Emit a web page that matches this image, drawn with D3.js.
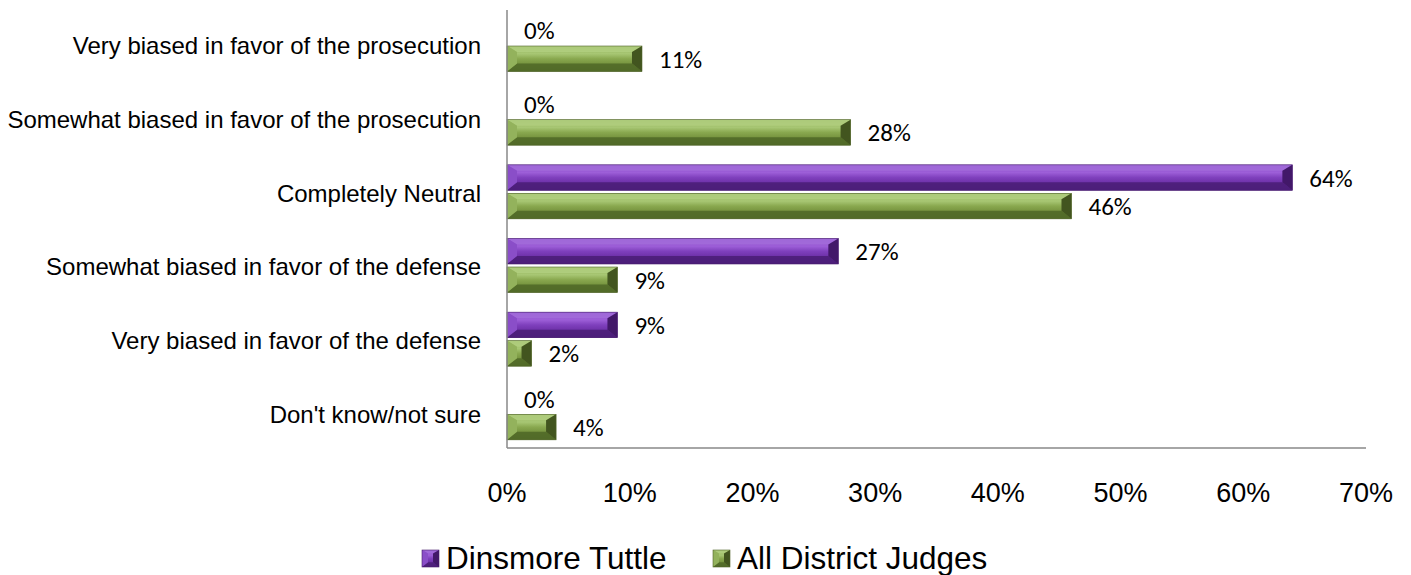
<!DOCTYPE html>
<html><head><meta charset="utf-8">
<script src="https://cdn.jsdelivr.net/npm/d3@7"></script>
<style>body{margin:0;background:#fff}</style>
</head><body>
<svg id="c" width="1411" height="575"></svg>
<script>
const categories = ["Very biased in favor of the prosecution","Somewhat biased in favor of the prosecution","Completely Neutral","Somewhat biased in favor of the defense","Very biased in favor of the defense","Don't know/not sure"];
const seriesNames = ["Dinsmore Tuttle","All District Judges"];
const dinsmore = [0,0,64,27,9,0];
const allJudges = [11,28,46,9,2,4];
const xTicks = [0,10,20,30,40,50,60,70];

const svg = d3.select("#c");
const x = d3.scaleLinear().domain([0,70]).range([507,1366]);
const y = d3.scaleBand().domain(categories).range([6,448]);
const sub = d3.scaleBand().domain(seriesNames).range([11.5,65.5]).paddingInner(3/28.5);

const defs = svg.append("defs");
const pal = {
  "Dinsmore Tuttle": {face:["#8549c6","#9d5fd8","#7f40bd","#6a2ea4","#582490"], top:"#a36ddb", bot:"#4a1d76", left:"#8a4ec8", right:"#421869", stroke:"#461c6c"},
  "All District Judges": {face:["#8dac54","#a8c774","#89a84f","#728f3b","#607a31"], top:"#b1cf80", bot:"#4f6727", left:"#93b25c", right:"#42551f", stroke:"#50632a"}
};
seriesNames.forEach((s,i)=>{
  const g = defs.append("linearGradient").attr("id","g"+i).attr("x1",0).attr("x2",0).attr("y1",0).attr("y2",1);
  const offs=[0,0.3,0.5,0.75,1];
  pal[s].face.forEach((c,k)=>g.append("stop").attr("offset",offs[k]).attr("stop-color",c));
});

function bevelBar(g, x0, x1, yy, h, p, gid, bev){
  const b = Math.min(bev, (x1-x0)/2, h/2);
  g.append("rect").attr("x",x0).attr("y",yy).attr("width",x1-x0).attr("height",h).attr("fill",`url(#${gid})`);
  g.append("polygon").attr("points",`${x0},${yy} ${x1},${yy} ${x1-b},${yy+b*0.6} ${x0+b},${yy+b*0.6}`).attr("fill",p.top).attr("opacity",0.85);
  g.append("polygon").attr("points",`${x0},${yy+h} ${x1},${yy+h} ${x1-b},${yy+h-b*0.8} ${x0+b},${yy+h-b*0.8}`).attr("fill",p.bot).attr("opacity",0.85);
  g.append("polygon").attr("points",`${x0},${yy} ${x0+b},${yy+b*0.6} ${x0+b},${yy+h-b*0.8} ${x0},${yy+h}`).attr("fill",p.left);
  g.append("polygon").attr("points",`${x1},${yy} ${x1-b},${yy+b*0.6} ${x1-b},${yy+h-b*0.8} ${x1},${yy+h}`).attr("fill",p.right);
  g.append("rect").attr("x",x0).attr("y",yy).attr("width",x1-x0).attr("height",h).attr("fill","none").attr("stroke",p.stroke).attr("stroke-width",0.6);
}

const data = [];
categories.forEach((c,ci)=>{
  data.push({cat:c,s:seriesNames[0],v:dinsmore[ci],i:0});
  data.push({cat:c,s:seriesNames[1],v:allJudges[ci],i:1});
});

const bars = svg.append("g");
data.forEach(d=>{
  const x0=x(0), x1=x(d.v), yy=y(d.cat)+sub(d.s), h=sub.bandwidth();
  if (d.v>0) bevelBar(bars, x0, x1, yy, h, pal[d.s], "g"+d.i, 10);
  svg.append("text").attr("x",x1+17).attr("y",yy+h/2).attr("dy","0.36em")
    .attr("font-family","Carlito, 'Open Sans', sans-serif").attr("font-size",25).attr("fill","#000").text(d.v+"%");
});

// axes
svg.append("line").attr("x1",507).attr("x2",507).attr("y1",10).attr("y2",448).attr("stroke","#888").attr("stroke-width",1.5);
svg.append("line").attr("x1",507).attr("x2",1366).attr("y1",448).attr("y2",448).attr("stroke","#888").attr("stroke-width",1.5);

svg.append("g").selectAll("text").data(xTicks).join("text")
  .attr("x",d=>x(d)).attr("y",492).attr("dy","0.36em").attr("text-anchor","middle")
  .attr("font-family","'Liberation Sans', Arial, sans-serif").attr("font-size",27).text(d=>d+"%");

svg.append("g").selectAll("text").data(categories).join("text")
  .attr("x",481).attr("y",d=>y(d)+y.bandwidth()/2+3).attr("dy","0.36em").attr("text-anchor","end")
  .attr("font-family","'Liberation Sans', Arial, sans-serif").attr("font-size",24).text(d=>d);

// legend
const lg = svg.append("g");
const lx=[422,713];
seriesNames.forEach((s,i)=>{
  const sx=lx[i], sy=550, sz=17;
  bevelBar(lg, sx, sx+sz, sy, sz, pal[s], "g"+i, 6);
  lg.append("text").attr("x",sx+24).attr("y",558).attr("dy","0.36em")
    .attr("font-family","'Liberation Sans', Arial, sans-serif").attr("font-size",31.5).text(s);
});
</script>
</body></html>
